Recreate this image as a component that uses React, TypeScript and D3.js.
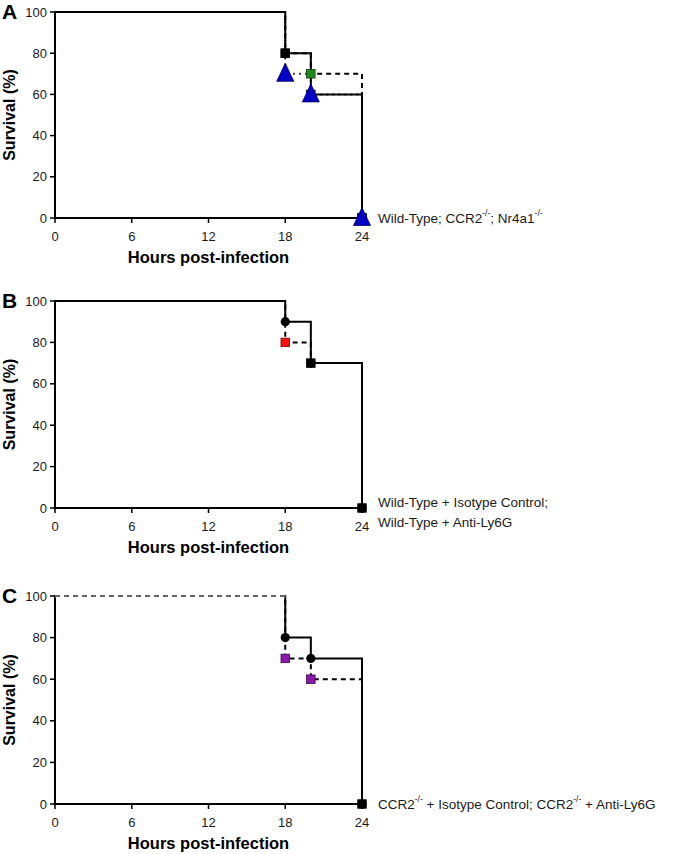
import React from 'react';
import * as d3 from 'd3';

// ---- data ----
const hours = [0, 18, 20, 24];
const xTicks = [0, 6, 12, 18, 24];
const yTicks = [0, 20, 40, 60, 80, 100];

const wildTypeA = [100, 80, 60, 0];
const ccr2A = [100, 80, 70, 0];
const nr4a1A = [100, 70, 60, 0];

const isotypeB = [100, 90, 70, 0];
const antiLy6gB = [100, 80, 70, 0];

const isotypeC = [100, 80, 70, 0];
const antiLy6gC = [100, 70, 60, 0];

const legendA = ['Wild-Type; CCR2^-/-^; Nr4a1^-/-'];
const legendB = ['Wild-Type + Isotype Control;', 'Wild-Type + Anti-Ly6G'];
const legendC = ['CCR2^-/-^ + Isotype Control; CCR2^-/-^ + Anti-Ly6G'];

const xTitle = 'Hours post-infection';
const yTitle = 'Survival (%)';

type Series = {
  values: number[];
  dash: string | null;
  marker: 'square' | 'circle' | 'triangle';
  fill: string;
  stroke: string;
  underlay?: boolean;
};

type Panel = {
  letter: string;
  top: number;
  bottom: number;
  lines: Series[];
  markers: Series[];
  legend: string[];
  legendDy: number[];
};

const FONT = 'Liberation Sans, Arial, Helvetica, sans-serif';

const sWT_A: Series = { values: wildTypeA, dash: null, marker: 'square', fill: '#000', stroke: '#000' };
const sCCR2_A: Series = { values: ccr2A, dash: '5,4', marker: 'square', fill: '#1e8a1e', stroke: '#0b3d0b' };
const sNR_A: Series = { values: nr4a1A, dash: '1.5,4.5', marker: 'triangle', fill: '#0000c8', stroke: '#000060' };

const sIso_B: Series = { values: isotypeB, dash: null, marker: 'circle', fill: '#000', stroke: '#000' };
const sAnti_B: Series = { values: antiLy6gB, dash: '5,4', marker: 'square', fill: '#ff1010', stroke: '#700000' };

const sIso_C: Series = { values: isotypeC, dash: null, marker: 'circle', fill: '#000', stroke: '#000' };
const sAnti_C: Series = { values: antiLy6gC, dash: '5,4', marker: 'square', fill: '#8a1aa8', stroke: '#3a0050', underlay: true };

const panels: Panel[] = [
  { letter: 'A', top: 12, bottom: 218, lines: [sWT_A, sCCR2_A, sNR_A], markers: [sCCR2_A, sWT_A, sNR_A], legend: legendA, legendDy: [0] },
  { letter: 'B', top: 301, bottom: 508, lines: [sIso_B, sAnti_B], markers: [sAnti_B, sIso_B], legend: legendB, legendDy: [-6, 14] },
  { letter: 'C', top: 596, bottom: 804, lines: [sIso_C, sAnti_C], markers: [sAnti_C, sIso_C], legend: legendC, legendDy: [0] },
];

const x = d3.scaleLinear().domain([0, 24]).range([55, 362]);

function RichText({ text, x0, y0 }: { text: string; x0: number; y0: number }) {
  const parts = text.split('^');
  return (
    <text x={x0} y={y0} fontFamily={FONT} fontSize={13.5} fill="#1a1a1a" dominantBaseline="central">
      {parts.map((p, i) =>
        i % 2 === 1 ? (
          <tspan key={i} fontSize={8.5} dy={-5}>{p}</tspan>
        ) : (
          <tspan key={i} dy={i > 0 ? 5 : 0}>{p}</tspan>
        )
      )}
    </text>
  );
}

function PanelView({ p }: { p: Panel }) {
  const y = d3.scaleLinear().domain([0, 100]).range([p.bottom, p.top]);
  const line = d3
    .line<number>()
    .x((_, i) => x(hours[i]))
    .y((v) => y(v))
    .curve(d3.curveStepAfter);

  const markerEls: React.ReactNode[] = [];
  p.markers.forEach((s, si) => {
    s.values.forEach((v, i) => {
      if (i === 0) return;
      const cx = x(hours[i]);
      const cy = y(v);
      const overlaps = p.lines.some((o) => o !== s && o.values[i] === v);
      const fill = s.marker === 'square' && overlaps ? '#000' : s.fill;
      const stroke = s.marker === 'square' && overlaps ? '#000' : s.stroke;
      const key = `${si}-${i}`;
      if (s.marker === 'square') {
        markerEls.push(<rect key={key} x={cx - 4.25} y={cy - 4.25} width={8.5} height={8.5} fill={fill} stroke={stroke} strokeWidth={0.8} />);
      } else if (s.marker === 'circle') {
        markerEls.push(<circle key={key} cx={cx} cy={cy} r={4.6} fill={fill} />);
      } else {
        const d = `M${cx},${cy - 10.5}L${cx + 8.5},${cy + 7.5}L${cx - 8.5},${cy + 7.5}Z`;
        markerEls.push(<path key={key} d={d} fill={fill} stroke={stroke} strokeWidth={0.8} />);
      }
    });
  });

  const midY = (p.top + p.bottom) / 2;
  const lastX = x(24);

  return (
    <g>
      <text x={2} y={p.top + 7} fontFamily={FONT} fontWeight="bold" fontSize={21} fill="#000">{p.letter}</text>
      {/* y axis */}
      <line x1={x(0)} x2={x(0)} y1={p.top - 1} y2={p.bottom + 1} stroke="#000" strokeWidth={2} />
      {yTicks.map((t) => (
        <g key={t}>
          <line x1={x(0) - 5} x2={x(0)} y1={y(t)} y2={y(t)} stroke="#000" strokeWidth={1.5} />
          <text x={x(0) - 8} y={y(t)} textAnchor="end" dominantBaseline="central" fontFamily={FONT} fontSize={13} fill="#1a1a1a">{t}</text>
        </g>
      ))}
      {/* x axis */}
      <line x1={x(0) - 1} x2={lastX + 1} y1={p.bottom} y2={p.bottom} stroke="#000" strokeWidth={2} />
      {xTicks.map((t) => (
        <g key={t}>
          <line x1={x(t)} x2={x(t)} y1={p.bottom} y2={p.bottom + 5} stroke="#000" strokeWidth={1.5} />
          <text x={x(t)} y={p.bottom + 18} textAnchor="middle" dominantBaseline="central" fontFamily={FONT} fontSize={13} fill="#1a1a1a">{t}</text>
        </g>
      ))}
      <text x={x(12)} y={p.bottom + 39} textAnchor="middle" dominantBaseline="central" fontFamily={FONT} fontWeight="bold" fontSize={16.5} fill="#000">{xTitle}</text>
      <text transform={`translate(15,${midY}) rotate(-90)`} textAnchor="middle" fontFamily={FONT} fontWeight="bold" fontSize={16} fill="#000">{yTitle}</text>
      {/* series lines */}
      {p.lines.map((s, i) => (
        <path key={i} d={line(s.values) || ''} fill="none" stroke="#000" strokeWidth={2} strokeDasharray={s.dash || undefined} />
      ))}
      {/* dashed series drawn over the shared starting segment */}
      {p.lines.filter((s) => s.underlay).map((s, i) => {
        const seg = line([s.values[0], s.values[0]]) || '';
        return (
          <g key={`u${i}`}>
            <path d={seg} fill="none" stroke="#fff" strokeWidth={2.6} />
            <path d={seg} fill="none" stroke="#333" strokeWidth={1.6} strokeDasharray={s.dash || undefined} />
          </g>
        );
      })}
      {markerEls}
      {p.legend.map((l, i) => (
        <RichText key={i} text={l} x0={lastX + 16} y0={p.bottom + p.legendDy[i]} />
      ))}
    </g>
  );
}

export default function App() {
  return (
    <svg width={675} height={854} style={{ position: 'absolute', left: 0, top: 0, background: '#fff' }}>
      <rect width={675} height={854} fill="#fff" />
      {panels.map((p) => (
        <PanelView key={p.letter} p={p} />
      ))}
    </svg>
  );
}
